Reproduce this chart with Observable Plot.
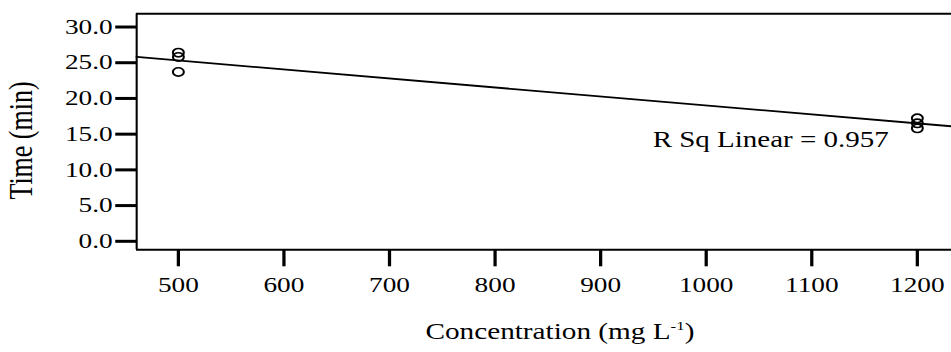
<!DOCTYPE html>
<html><head><meta charset="utf-8">
<script src="https://cdn.jsdelivr.net/npm/d3@7"></script>
<script src="https://cdn.jsdelivr.net/npm/@observablehq/plot@0.6"></script>
<style>body{margin:0;background:#fff}</style>
</head><body><div id="chart"></div>
<script>
// ---- data ----
const concentration = [500, 500, 500, 1200, 1200, 1200];
const time = [26.2, 25.6, 23.5, 17.0, 16.3, 15.6];
const xTicks = [500, 600, 700, 800, 900, 1000, 1100, 1200];
const yTicks = [0, 5, 10, 15, 20, 25, 30];
const xDomain = [460.5, 1232.5];
const yDomain = [-1.4, 31.64];
const fitLabel = "R Sq Linear = 0.957";
const xTitleMain = "Concentration (mg L";
const xTitleSup = "-1";
const xTitleEnd = ")";
const yTitle = "Time (min)";

const FONT = "'Liberation Serif', 'Times New Roman', Times, serif";

const data = concentration.map((c, i) => ({c, t: time[i]}));
const mx = d3.mean(concentration), my = d3.mean(time);
const slope = d3.sum(data, d => (d.c - mx) * (d.t - my)) / d3.sum(data, d => (d.c - mx) ** 2);
const intercept = my - slope * mx;
const fit = xDomain.map(c => ({c, t: intercept + slope * c}));

const W = 732, H = 352, OUT_W = 951;
const plot = Plot.plot({
  width: W, height: H,
  marginLeft: 104.7, marginRight: 0, marginTop: 13.3, marginBottom: 102.7,
  style: {fontFamily: FONT, fontSize: "21px", color: "black", background: "white"},
  x: {domain: xDomain},
  y: {domain: yDomain},
  marks: [
    Plot.ruleY([yDomain[1]], {strokeWidth: 2}),
    Plot.ruleY([yDomain[0]], {strokeWidth: 2}),
    Plot.ruleX([xDomain[0]], {strokeWidth: 1.6}),
    Plot.axisX({ticks: xTicks, tickSize: 17, tickPadding: 10, strokeWidth: 2.5, fontSize: 21, fontFamily: FONT, fontVariant: "normal", label: null, tickFormat: d => String(d)}),
    Plot.axisY({ticks: yTicks, tickSize: 16, tickPadding: 2.5, strokeWidth: 3, fontSize: 21, fontFamily: FONT, fontVariant: "normal", label: null, tickFormat: d3.format(".1f"), dy: 1.5}),
    Plot.line(fit, {x: "c", y: "t", stroke: "black", strokeWidth: 1.8}),
    Plot.dot(data, {x: "c", y: "t", r: 4.2, stroke: "black", strokeWidth: 1.6, fill: "none"}),
    Plot.text([fitLabel], {frameAnchor: "top-right", textAnchor: "end", lineAnchor: "bottom", dx: -48.5, dy: 132.7, fontSize: 22.3, fontFamily: FONT, fill: "black"})
  ]
});

// stretch horizontally like the reference image
plot.setAttribute("width", OUT_W);
plot.setAttribute("height", H);
plot.setAttribute("preserveAspectRatio", "none");
plot.style.width = OUT_W + "px";
plot.style.height = H + "px";
plot.style.maxWidth = "none";

const svg = d3.select(plot);
const xt = svg.append("text")
  .attr("x", 431).attr("y", 339.5)
  .attr("text-anchor", "middle").attr("font-size", 22.5).attr("font-family", FONT).attr("fill", "black");
xt.append("tspan").text(xTitleMain);
xt.append("tspan").attr("font-size", 13).attr("dy", -9).text(xTitleSup);
xt.append("tspan").attr("dy", 9).text(xTitleEnd);

svg.append("text")
  .attr("transform", "translate(24.4,140.5) rotate(-90)")
  .attr("text-anchor", "middle").attr("font-size", 26).attr("font-family", FONT).attr("fill", "black")
  .text(yTitle);

document.getElementById("chart").appendChild(plot);
</script>
</body></html>
